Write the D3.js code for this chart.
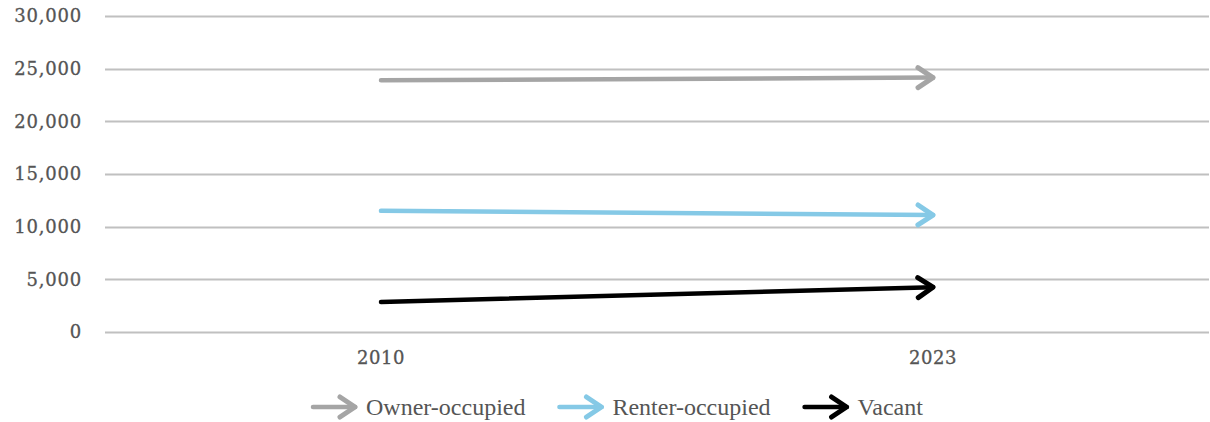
<!DOCTYPE html>
<html>
<head>
<meta charset="utf-8">
<script src="https://cdn.jsdelivr.net/npm/d3@7"></script>
<style>
  html, body { margin: 0; padding: 0; background: #fff; }
  svg { display: block; }
</style>
</head>
<body>
<svg id="chart" width="1210" height="422"></svg>
<script>
// Housing units by occupancy status, 2010 vs 2023
const years = ["2010", "2023"];
const seriesNames = ["Owner-occupied", "Renter-occupied", "Vacant"];
const ownerValues = [23900, 24150];
const renterValues = [11500, 11100];
const vacantValues = [2850, 4250];
const seriesColors = ["#a5a5a5", "#85c9e6", "#000000"];
const yTicks = [0, 5000, 10000, 15000, 20000, 25000, 30000];

const series = seriesNames.map((name, i) => ({
  name,
  color: seriesColors[i],
  values: [ownerValues, renterValues, vacantValues][i]
}));

const svg = d3.select("#chart");
const margin = { left: 105, right: 1, top: 16, bottom: 90 };
const W = 1210, H = 422;

const x = d3.scaleBand().domain(years).range([margin.left, W - margin.right]);
const y = d3.scaleLinear().domain([0, 30000]).range([H - margin.bottom, margin.top]);

const labelFont = "'DejaVu Serif', Georgia, serif";
const textColor = "#555555";

// horizontal gridlines
svg.append("g")
  .selectAll("line")
  .data(yTicks)
  .join("line")
  .attr("x1", margin.left)
  .attr("x2", W - margin.right)
  .attr("y1", d => Math.round(y(d)) + 0.5)
  .attr("y2", d => Math.round(y(d)) + 0.5)
  .attr("stroke", "#c0c0c0")
  .attr("stroke-width", 2);

// y axis labels
const yAxis = svg.append("g")
  .attr("transform", `translate(${margin.left - 23},0)`)
  .call(d3.axisLeft(y).tickValues(yTicks).tickFormat(d3.format(",")).tickSize(0).tickPadding(0));
yAxis.select(".domain").remove();
yAxis.selectAll("text")
  .attr("font-family", labelFont)
  .attr("font-size", 18)
  .attr("letter-spacing", 0.8)
  .attr("stroke", textColor)
  .attr("stroke-width", 0.3)
  .attr("fill", textColor);

// x axis labels
const xAxis = svg.append("g")
  .attr("transform", `translate(0,${H - margin.bottom + 19})`)
  .call(d3.axisBottom(x).tickSize(0).tickPadding(0));
xAxis.select(".domain").remove();
xAxis.selectAll("text")
  .attr("font-family", labelFont)
  .attr("font-size", 18)
  .attr("letter-spacing", 0.6)
  .attr("stroke", textColor)
  .attr("stroke-width", 0.3)
  .attr("fill", textColor);

// open chevron arrowheads
const defs = svg.append("defs");
series.forEach((s, i) => {
  defs.append("marker")
    .attr("id", "arrow" + i)
    .attr("markerUnits", "userSpaceOnUse")
    .attr("viewBox", "-24 -14 28 28")
    .attr("markerWidth", 28)
    .attr("markerHeight", 28)
    .attr("refX", 0)
    .attr("refY", 0)
    .attr("orient", "auto")
    .append("path")
    .attr("d", "M-15,-10 L0,0 L-15,10")
    .attr("fill", "none")
    .attr("stroke", s.color)
    .attr("stroke-width", 5)
    .attr("stroke-linecap", "round")
    .attr("stroke-linejoin", "round");
});

const cx = d => x(d) + x.bandwidth() / 2;
const line = d3.line().x(d => cx(d.year)).y(d => y(d.value));

svg.append("g")
  .selectAll("path")
  .data(series)
  .join("path")
  .attr("d", s => line(years.map((yr, j) => ({ year: yr, value: s.values[j] }))))
  .attr("fill", "none")
  .attr("stroke", s => s.color)
  .attr("stroke-width", 4.5)
  .attr("stroke-linecap", "round")
  .attr("marker-end", (s, i) => `url(#arrow${i})`);

// legend
const legend = svg.append("g").attr("transform", `translate(311,${H - 15})`);
let lx = 0;
series.forEach((s, i) => {
  const g = legend.append("g").attr("transform", `translate(${lx},0)`);
  g.append("line")
    .attr("x1", 2).attr("x2", 44)
    .attr("y1", 0).attr("y2", 0)
    .attr("stroke", s.color)
    .attr("stroke-width", 4.5)
    .attr("stroke-linecap", "round")
    .attr("marker-end", `url(#arrow${i})`);
  const t = g.append("text")
    .attr("x", 55)
    .attr("y", 8)
    .attr("font-family", "'Liberation Serif', 'Times New Roman', serif")
    .attr("font-size", 24)
    .attr("fill", textColor)
    .text(s.name);
  const tw = t.node().getComputedTextLength();
  lx += 55 + tw + 32;
});
</script>
</body>
</html>
